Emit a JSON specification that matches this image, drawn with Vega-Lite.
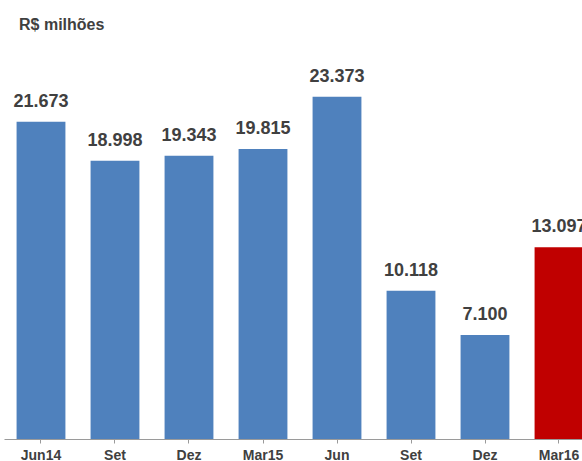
{
  "$schema": "https://vega.github.io/schema/vega-lite/v6.json",
  "width": 592,
  "height": 399,
  "padding": {"left": 4, "top": 17, "right": 0, "bottom": 0},
  "background": "white",
  "title": {"text": "R$ milhões", "anchor": "start", "frame": "group", "dx": 15, "offset": 7, "fontSize": 16, "fontWeight": "bold", "color": "#404040", "font": "Liberation Sans"},
  "config": {"view": {"stroke": null}},
  "data": {"values": [
    {"periodo": "Jun14", "valor": 21673, "rotulo": "21.673", "tipo": "a"},
    {"periodo": "Set", "valor": 18998, "rotulo": "18.998", "tipo": "a"},
    {"periodo": "Dez", "valor": 19343, "rotulo": "19.343", "tipo": "a"},
    {"periodo": "Mar15", "valor": 19815, "rotulo": "19.815", "tipo": "a"},
    {"periodo": "Jun", "valor": 23373, "rotulo": "23.373", "tipo": "a"},
    {"periodo": "Set\u200b", "valor": 10118, "rotulo": "10.118", "tipo": "a"},
    {"periodo": "Dez\u200b", "valor": 7100, "rotulo": "7.100", "tipo": "a"},
    {"periodo": "Mar16", "valor": 13097, "rotulo": "13.097", "tipo": "b"}
  ]},
  "layer": [
    {"mark": {"type": "bar"},
     "encoding": {
       "x": {"field": "periodo", "type": "nominal", "sort": null,
         "scale": {"paddingInner": 0.34, "paddingOuter": 0.17},
         "axis": {"title": null, "labelAngle": 0, "domainColor": "#9a9a9a", "tickColor": "#9a9a9a", "tickSize": 4, "labelPadding": 5,
           "labelFont": "Liberation Sans", "labelFontSize": 14, "labelFontWeight": "bold", "labelColor": "#404040"}},
       "y": {"field": "valor", "type": "quantitative", "stack": null, "scale": {"domain": [0, 27254], "nice": false},
         "axis": {"title": null, "labels": false, "ticks": false, "domain": false, "grid": false}},
       "color": {"field": "tipo", "type": "nominal", "scale": {"domain": ["a", "b"], "range": ["#4F81BD", "#C00000"]}, "legend": null}}},
    {"mark": {"type": "text", "baseline": "alphabetic", "dy": -15, "font": "Liberation Sans", "fontSize": 18, "fontWeight": "bold", "color": "#404040"},
     "encoding": {
       "x": {"field": "periodo", "type": "nominal", "sort": null},
       "y": {"field": "valor", "type": "quantitative"},
       "text": {"field": "rotulo"}}}
  ]
}
